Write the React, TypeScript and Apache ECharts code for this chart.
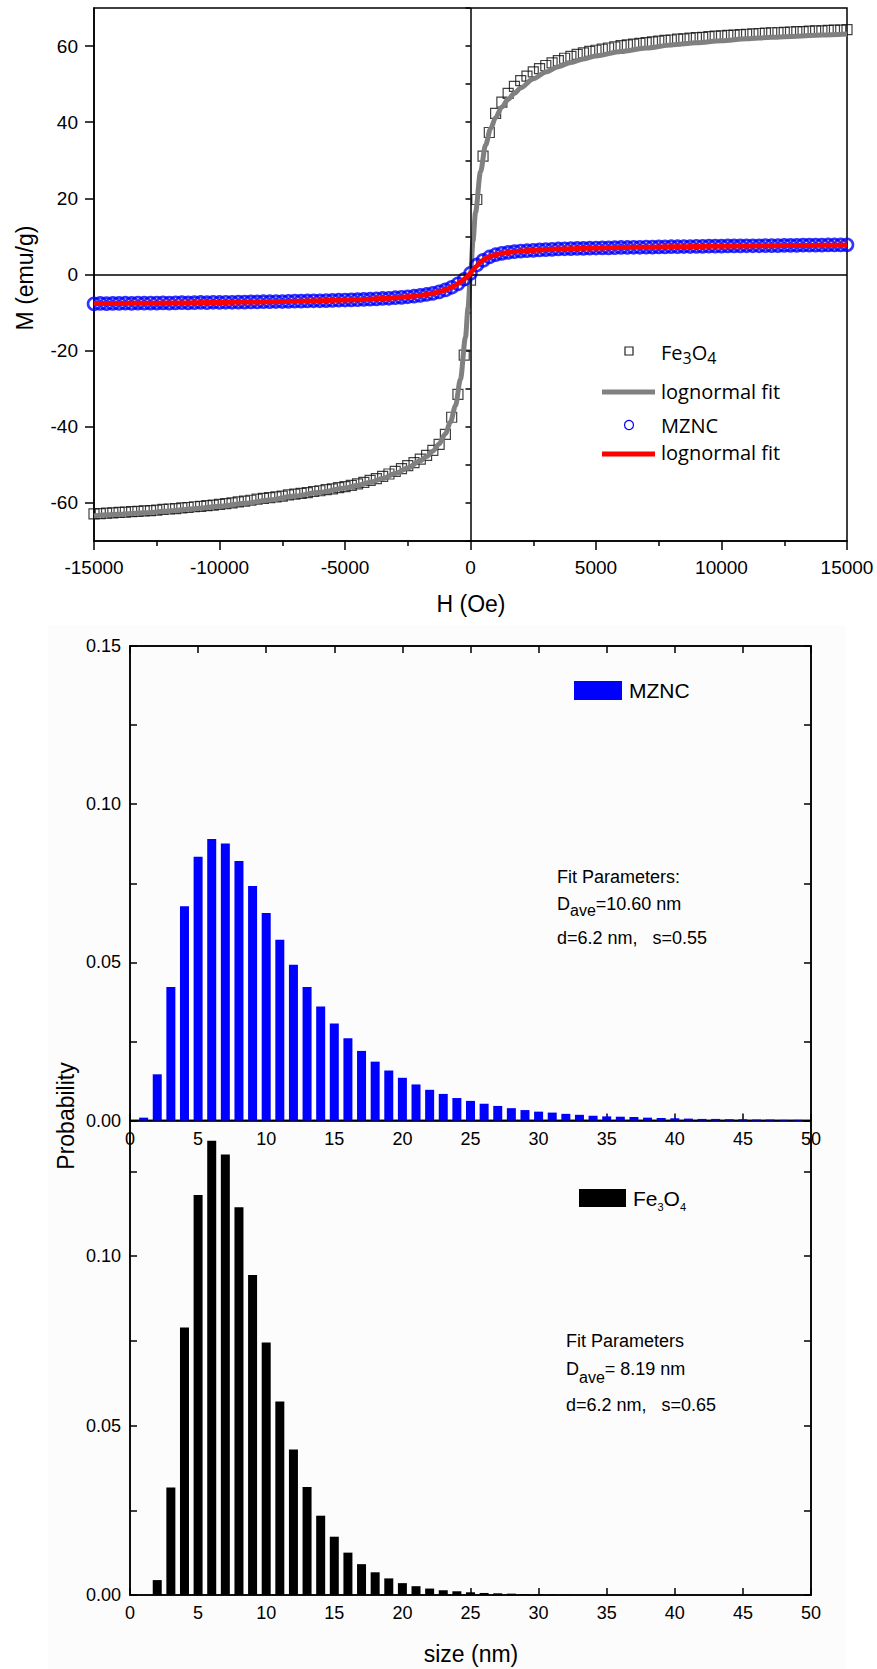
import React, { useEffect, useRef } from 'react';
import * as echarts from 'echarts';

const FONT = "'Liberation Sans', Arial, Helvetica, sans-serif";
const LEG_FONT = "'Open Sans', 'Liberation Sans', sans-serif";

// ---- M–H loop: measured points [H (Oe), M (emu/g)] ----
const FE3O4_POINTS: [number, number][] = [
  [-15000, -62.9], [-14750, -62.8], [-14500, -62.7], [-14250, -62.6], [-14000, -62.5],
  [-13750, -62.4], [-13500, -62.3], [-13250, -62.2], [-13000, -62.1], [-12750, -62.0],
  [-12500, -61.9], [-12250, -61.7], [-12000, -61.6], [-11750, -61.5], [-11500, -61.3],
  [-11250, -61.2], [-11000, -61.0], [-10750, -60.9], [-10500, -60.7], [-10250, -60.6],
  [-10000, -60.4], [-9750, -60.2], [-9500, -60.0], [-9250, -59.7], [-9000, -59.5],
  [-8750, -59.3], [-8500, -59.0], [-8250, -58.8], [-8000, -58.6], [-7750, -58.4],
  [-7500, -58.2], [-7250, -57.9], [-7000, -57.7], [-6750, -57.5], [-6500, -57.3],
  [-6250, -57.0], [-6000, -56.8], [-5750, -56.5], [-5500, -56.3], [-5250, -56.0],
  [-5000, -55.7], [-4750, -55.4], [-4500, -55.0], [-4250, -54.6], [-4000, -54.1],
  [-3750, -53.6], [-3500, -53.0], [-3250, -52.4], [-3000, -51.7], [-2750, -51.0],
  [-2500, -50.2], [-2250, -49.4], [-2000, -48.5], [-1750, -47.5], [-1500, -46.2],
  [-1250, -44.6], [-1000, -42.0], [-750, -37.5], [-500, -31.5], [-250, -21.2],
  [0, -1.5],
  [250, 19.7], [500, 31.1], [750, 37.3], [1000, 42.3], [1250, 45.3],
  [1500, 47.6], [1750, 49.4], [2000, 50.9], [2250, 52.1], [2500, 53.2],
  [2750, 54.1], [3000, 54.9], [3250, 55.6], [3500, 56.2], [3750, 56.8],
  [4000, 57.3], [4250, 57.8], [4500, 58.2], [4750, 58.6], [5000, 58.9],
  [5250, 59.2], [5500, 59.5], [5750, 59.8], [6000, 60.1], [6250, 60.3],
  [6500, 60.5], [6750, 60.7], [7000, 60.9], [7250, 61.1], [7500, 61.3],
  [7750, 61.5], [8000, 61.6], [8250, 61.8], [8500, 61.9], [8750, 62.1],
  [9000, 62.2], [9250, 62.3], [9500, 62.5], [9750, 62.6], [10000, 62.7],
  [10250, 62.8], [10500, 62.9], [10750, 63.0], [11000, 63.1], [11250, 63.2],
  [11500, 63.3], [11750, 63.4], [12000, 63.5], [12250, 63.5], [12500, 63.6],
  [12750, 63.7], [13000, 63.8], [13250, 63.8], [13500, 63.9], [13750, 64.0],
  [14000, 64.0], [14250, 64.1], [14500, 64.2], [14750, 64.2], [15000, 64.3],
];

const MZNC_POINTS: [number, number][] = [
  [-15000, -7.7], [-14750, -7.6], [-14500, -7.65], [-14250, -7.6], [-14000, -7.6],
  [-13750, -7.55], [-13500, -7.6], [-13250, -7.5], [-13000, -7.55], [-12750, -7.5],
  [-12500, -7.5], [-12250, -7.45], [-12000, -7.5], [-11750, -7.45], [-11500, -7.4],
  [-11250, -7.45], [-11000, -7.4], [-10750, -7.35], [-10500, -7.4], [-10250, -7.3],
  [-10000, -7.35], [-9750, -7.3], [-9500, -7.3], [-9250, -7.25], [-9000, -7.25],
  [-8750, -7.2], [-8500, -7.2], [-8250, -7.15], [-8000, -7.15], [-7750, -7.1],
  [-7500, -7.1], [-7250, -7.05], [-7000, -7.0], [-6750, -7.0], [-6500, -6.95],
  [-6250, -6.9], [-6000, -6.9], [-5750, -6.85], [-5500, -6.8], [-5250, -6.75],
  [-5000, -6.7], [-4750, -6.65], [-4500, -6.6], [-4250, -6.55], [-4000, -6.5],
  [-3750, -6.4], [-3500, -6.3], [-3250, -6.25], [-3000, -6.1], [-2750, -6.0],
  [-2500, -5.85], [-2250, -5.7], [-2000, -5.5], [-1750, -5.25], [-1500, -4.95],
  [-1250, -4.55], [-1000, -4.05], [-750, -3.35], [-500, -2.45], [-250, -1.25],
  [0, 0.3],
  [250, 2.5], [500, 3.7], [750, 4.6], [1000, 5.2], [1250, 5.55],
  [1500, 5.8], [1750, 6.0], [2000, 6.15], [2250, 6.25], [2500, 6.35],
  [2750, 6.45], [3000, 6.55], [3250, 6.6], [3500, 6.7], [3750, 6.75],
  [4000, 6.8], [4250, 6.85], [4500, 6.85], [4750, 6.9], [5000, 6.95],
  [5250, 7.0], [5500, 7.0], [5750, 7.05], [6000, 7.1], [6250, 7.1],
  [6500, 7.15], [6750, 7.15], [7000, 7.2], [7250, 7.2], [7500, 7.25],
  [7750, 7.25], [8000, 7.3], [8250, 7.3], [8500, 7.35], [8750, 7.35],
  [9000, 7.4], [9250, 7.4], [9500, 7.45], [9750, 7.45], [10000, 7.45],
  [10250, 7.5], [10500, 7.5], [10750, 7.5], [11000, 7.55], [11250, 7.55],
  [11500, 7.55], [11750, 7.6], [12000, 7.6], [12250, 7.6], [12500, 7.65],
  [12750, 7.65], [13000, 7.65], [13250, 7.7], [13500, 7.7], [13750, 7.7],
  [14000, 7.7], [14250, 7.75], [14500, 7.75], [14750, 7.75], [15000, 7.8],
];

// ---- lognormal fit curves ----
const FIT_H = [
  -15000, -14000, -13000, -12000, -11000, -10000, -9000, -8000, -7000, -6000, -5000,
  -4500, -4000, -3500, -3000, -2500, -2000, -1750, -1500, -1250, -1000,
  -800, -600, -400, -200, -100, 0, 100, 200, 400, 600, 800,
  1000, 1250, 1500, 1750, 2000, 2500, 3000, 3500, 4000, 4500,
  5000, 6000, 7000, 8000, 9000, 10000, 11000, 12000, 13000, 14000, 15000,
];
const FE3O4_FIT_M = [
  -63.4, -63.0, -62.6, -62.1, -61.5, -60.9, -60.1, -59.2, -58.2, -57.2, -56.1,
  -55.4, -54.6, -53.6, -52.3, -50.8, -48.9, -47.8, -46.4, -44.5, -41.8,
  -38.8, -34.5, -27.5, -16.5, -8.8, 0, 8.8, 16.3, 27.0, 34.0, 38.3,
  41.2, 44.0, 46.0, 47.6, 49.0, 51.4, 53.2, 54.6, 55.7, 56.6,
  57.4, 58.6, 59.5, 60.3, 60.9, 61.4, 61.9, 62.3, 62.6, 62.9, 63.2,
];
const MZNC_FIT_M = [
  -7.65, -7.6, -7.55, -7.5, -7.42, -7.35, -7.25, -7.15, -7.02, -6.88, -6.7,
  -6.6, -6.48, -6.32, -6.12, -5.85, -5.5, -5.25, -4.95, -4.55, -4.05,
  -3.5, -2.85, -2.0, -1.0, -0.4, 0.3, 1.1, 2.0, 3.3, 4.2, 4.8,
  5.2, 5.55, 5.8, 6.0, 6.15, 6.38, 6.55, 6.68, 6.78, 6.87,
  6.95, 7.08, 7.18, 7.28, 7.36, 7.44, 7.5, 7.56, 7.62, 7.68, 7.72,
];

// ---- size distributions ----
const SIZE_NM = [
  1, 2, 3, 4, 5, 6, 7, 8, 9, 10, 11, 12, 13, 14, 15, 16, 17, 18, 19, 20,
  21, 22, 23, 24, 25, 26, 27, 28, 29, 30, 31, 32, 33, 34, 35, 36, 37, 38, 39, 40,
  41, 42, 43, 44, 45, 46, 47, 48, 49,
];
const MZNC_PROB = [
  0.0009, 0.0146, 0.0422, 0.0677, 0.0834, 0.0890, 0.0876, 0.0820, 0.0741, 0.0656,
  0.0571, 0.0492, 0.0422, 0.0360, 0.0307, 0.0260, 0.0220, 0.0186, 0.0158, 0.0135,
  0.0114, 0.0097, 0.0084, 0.0071, 0.0062, 0.0053, 0.0046, 0.0039, 0.0033, 0.0028,
  0.0025, 0.0021, 0.0018, 0.0015, 0.0013, 0.0012, 0.0011, 0.0009, 0.0008, 0.0007,
  0.0006, 0.0005, 0.0005, 0.0004, 0.0004, 0.0003, 0.0003, 0.0002, 0.0002,
];
const FE3O4_PROB = [
  0, 0.0044, 0.0317, 0.0789, 0.1180, 0.1340, 0.1300, 0.1144, 0.0944, 0.0745,
  0.0571, 0.0429, 0.0319, 0.0234, 0.0172, 0.0125, 0.0091, 0.0067, 0.0049, 0.0035,
  0.0026, 0.0019, 0.0014, 0.0011, 0.0008, 0.0006, 0.0005, 0.0004, 0.0003, 0.0002,
  0.0001, 0.0001, 0, 0, 0, 0, 0, 0, 0, 0,
  0, 0, 0, 0, 0, 0, 0, 0, 0,
];

const BLACK = '#000';
const axLine = { show: true, onZero: false, lineStyle: { color: BLACK, width: 1.5 } };

function probLabel(v: number) {
  const k = Math.round(v / 0.025);
  if (Math.abs(v - k * 0.025) > 1e-9 || k % 2 !== 0) return '';
  return v.toFixed(2);
}

function histX(gridIndex: number, position: string, labels: boolean) {
  return {
    type: 'value', gridIndex, position, min: 0, max: 50, interval: 5,
    axisLine: axLine,
    axisTick: { show: true, inside: true, length: 7, lineStyle: { color: BLACK, width: 1.5 } },
    axisLabel: { show: labels, fontSize: 18, color: BLACK, fontFamily: FONT, margin: 9 },
    splitLine: { show: false },
  };
}
function histY(gridIndex: number, position: string, max: number, labels: boolean) {
  return {
    type: 'value', gridIndex, position, min: 0, max, interval: 0.025,
    axisLine: axLine,
    axisTick: { show: true, inside: true, length: 7, lineStyle: { color: BLACK, width: 1.5 } },
    axisLabel: {
      show: labels, fontSize: 18, color: BLACK, fontFamily: FONT, margin: 9,
      formatter: probLabel, showMinLabel: true, showMaxLabel: true,
    },
    splitLine: { show: false },
  };
}

function txt(x: number, y: number, text: string, fontSize: number, fontFamily: string, extra: any = {}) {
  return {
    type: 'text', x, y, silent: true,
    style: {
      text, fontSize, fontFamily, fill: BLACK,
      textAlign: 'left', textVerticalAlign: 'middle', ...extra,
    },
  };
}
function subTxt(x: number, y: number, text: string, base: number, sub: number, pad: number, fontFamily: string) {
  return txt(x, y, text, base, fontFamily, {
    rich: {
      b: { fontSize: base, fontFamily, fill: BLACK },
      s: { fontSize: sub, fontFamily, fill: BLACK, padding: [pad, 0, 0, 0] },
    },
  });
}

export default function App() {
  const ref = useRef<HTMLDivElement>(null);

  useEffect(() => {
    if (!ref.current) return;
    const chart = echarts.init(ref.current, undefined, { renderer: 'svg' });

    const option: any = {
      animation: false,
      backgroundColor: '#fff',
      textStyle: { fontFamily: FONT },
      grid: [
        { left: 94, top: 8, width: 753, height: 533, show: true, borderColor: BLACK, borderWidth: 1.5 },
        { left: 130, top: 646, width: 681, height: 474.5, show: true, borderColor: BLACK, borderWidth: 1.5 },
        { left: 130, top: 1120.5, width: 681, height: 474.5, show: true, borderColor: BLACK, borderWidth: 1.5 },
      ],
      xAxis: [
        {
          type: 'value', gridIndex: 0, position: 'bottom', min: -15000, max: 15000, interval: 5000,
          axisLine: axLine,
          axisTick: { show: true, inside: false, length: 9, lineStyle: { color: BLACK, width: 1.5 } },
          minorTick: { show: true, splitNumber: 2, length: 5, lineStyle: { color: BLACK, width: 1.5 } },
          axisLabel: { fontSize: 19, color: BLACK, fontFamily: FONT, margin: 17, formatter: (v: number) => String(v) },
          splitLine: { show: false },
          minorSplitLine: { show: false },
        },
        histX(1, 'bottom', true),
        histX(1, 'top', false),
        histX(2, 'bottom', true),
      ],
      yAxis: [
        {
          type: 'value', gridIndex: 0, position: 'left', min: -70, max: 70, splitNumber: 7,
          axisLine: axLine,
          axisTick: { show: true, inside: false, length: 9, lineStyle: { color: BLACK, width: 1.5 } },
          axisLabel: {
            fontSize: 19, color: BLACK, fontFamily: FONT, margin: 16,
            showMinLabel: false, showMaxLabel: false, formatter: (v: number) => String(v),
          },
          splitLine: { show: false },
        },
        {
          type: 'value', gridIndex: 0, position: 'left', offset: 0, min: -70, max: 70, interval: 10,
          axisLine: { show: false },
          axisTick: { show: true, inside: false, length: 5, lineStyle: { color: BLACK, width: 1.5 } },
          axisLabel: { show: false },
          splitLine: { show: false },
        },
        histY(1, 'left', 0.15, true),
        histY(1, 'right', 0.15, false),
        histY(2, 'left', 0.14, true),
        histY(2, 'right', 0.14, false),
      ],
      series: [
        {
          name: 'Fe3O4', type: 'scatter', xAxisIndex: 0, yAxisIndex: 0, z: 2, silent: true,
          symbol: 'rect', symbolSize: 10,
          itemStyle: { color: 'rgba(0,0,0,0)', borderColor: '#111', borderWidth: 1.2 },
          data: FE3O4_POINTS,
          markLine: {
            silent: true, symbol: ['none', 'none'], label: { show: false },
            lineStyle: { color: BLACK, width: 1.5, type: 'solid' },
            emphasis: { disabled: true },
            data: [{ xAxis: 0 }, { yAxis: 0 }],
          },
        },
        {
          name: 'Fe3O4 fit', type: 'line', xAxisIndex: 0, yAxisIndex: 0, z: 3, silent: true,
          showSymbol: false, smooth: 0.3, smoothMonotone: 'x',
          lineStyle: { color: '#808080', width: 5 },
          data: FIT_H.map((h, i) => [h, FE3O4_FIT_M[i]]),
        },
        {
          name: 'MZNC', type: 'scatter', xAxisIndex: 0, yAxisIndex: 0, z: 4, silent: true,
          symbol: 'circle', symbolSize: 12,
          itemStyle: { color: 'rgba(0,0,0,0)', borderColor: '#0000ff', borderWidth: 2.6 },
          data: MZNC_POINTS,
        },
        {
          name: 'MZNC fit', type: 'line', xAxisIndex: 0, yAxisIndex: 0, z: 5, silent: true,
          showSymbol: false, smooth: 0.3, smoothMonotone: 'x',
          lineStyle: { color: '#ff0000', width: 5 },
          data: FIT_H.map((h, i) => [h, MZNC_FIT_M[i]]),
        },
        {
          name: 'MZNC size', type: 'bar', xAxisIndex: 1, yAxisIndex: 2, silent: true,
          barWidth: 9, itemStyle: { color: '#0000ff' },
          data: SIZE_NM.map((s, i) => [s, MZNC_PROB[i]]),
        },
        {
          name: 'Fe3O4 size', type: 'bar', xAxisIndex: 3, yAxisIndex: 4, silent: true,
          barWidth: 9, itemStyle: { color: '#000' },
          data: SIZE_NM.map((s, i) => [s, FE3O4_PROB[i]]),
        },
      ],
      graphic: [
        { type: 'rect', z: -10, silent: true, shape: { x: 48, y: 625, width: 798, height: 1044 }, style: { fill: '#fcfcfc' } },
        // axis titles
        { ...txt(25, 278, 'M (emu/g)', 23, FONT, { textAlign: 'center' }), rotation: Math.PI / 2 },
        txt(471, 604, 'H (Oe)', 23, FONT, { textAlign: 'center' }),
        { ...txt(66, 1116, 'Probability', 23, FONT, { textAlign: 'center' }), rotation: Math.PI / 2 },
        txt(471, 1654, 'size (nm)', 23, FONT, { textAlign: 'center' }),
        // M-H legend
        { type: 'rect', silent: true, shape: { x: 625, y: 347, width: 8, height: 8 }, style: { fill: 'none', stroke: '#222', lineWidth: 1.2 } },
        subTxt(661, 352, '{b|Fe}{s|3}{b|O}{s|4}', 20, 16, 11, LEG_FONT),
        { type: 'line', silent: true, shape: { x1: 602, y1: 392, x2: 655, y2: 392 }, style: { stroke: '#808080', lineWidth: 5 } },
        txt(661, 391, 'lognormal fit', 20, LEG_FONT),
        { type: 'circle', silent: true, shape: { cx: 629, cy: 425, r: 4.5 }, style: { fill: 'none', stroke: '#0000ff', lineWidth: 1.2 } },
        txt(661, 425, 'MZNC', 20, LEG_FONT),
        { type: 'line', silent: true, shape: { x1: 602, y1: 454, x2: 655, y2: 454 }, style: { stroke: '#ff0000', lineWidth: 5 } },
        txt(661, 452, 'lognormal fit', 20, LEG_FONT),
        // MZNC histogram legend + fit text
        { type: 'rect', silent: true, shape: { x: 574, y: 681, width: 48, height: 19 }, style: { fill: '#0000ff' } },
        txt(629, 690, 'MZNC', 21, FONT),
        txt(557, 877, 'Fit Parameters:', 18, FONT),
        subTxt(557, 904, '{b|D}{s|ave}{b|=10.60 nm}', 18, 16, 13, FONT),
        txt(557, 938, 'd=6.2 nm,   s=0.55', 18, FONT),
        // Fe3O4 histogram legend + fit text
        { type: 'rect', silent: true, shape: { x: 579, y: 1189, width: 47, height: 18 }, style: { fill: '#000' } },
        subTxt(633, 1198, '{b|Fe}{s|3}{b|O}{s|4}', 21, 11, 17, FONT),
        txt(566, 1341, 'Fit Parameters', 18, FONT),
        subTxt(566, 1369, '{b|D}{s|ave}{b|= 8.19 nm}', 18, 16, 16, FONT),
        txt(566, 1405, 'd=6.2 nm,   s=0.65', 18, FONT),
      ],
    };

    chart.setOption(option);
    return () => chart.dispose();
  }, []);

  return (
    <div
      ref={ref}
      style={{ position: 'absolute', left: 0, top: 0, width: 877, height: 1669, background: '#fff' }}
    />
  );
}
